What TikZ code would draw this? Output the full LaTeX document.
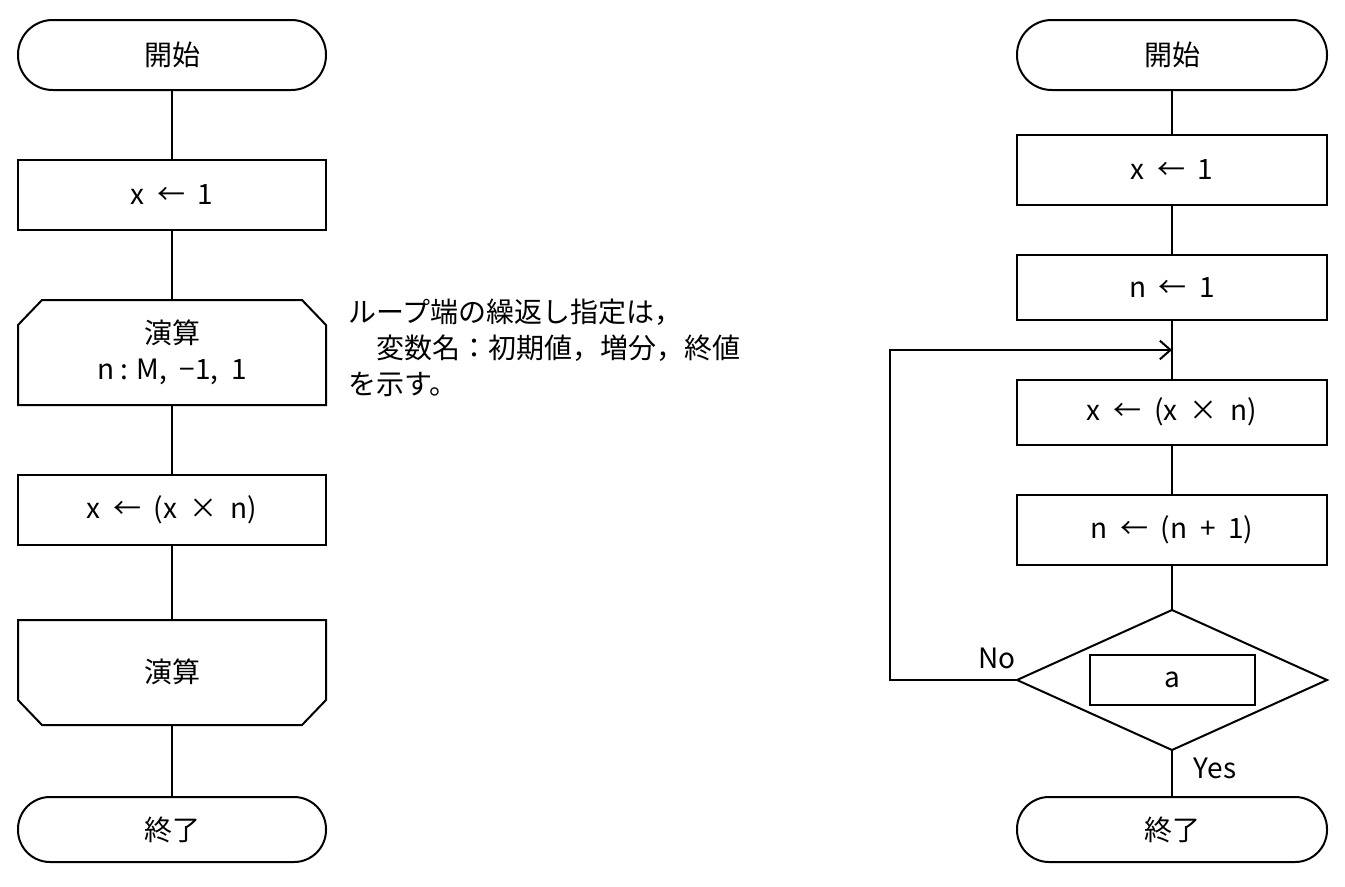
\documentclass[tikz,border=0pt]{standalone}
\usetikzlibrary{arrows.meta}
\usepackage{fontspec}
\setmainfont{Noto Sans CJK JP}
\begin{document}
\begin{tikzpicture}[x=0.75pt,y=-0.75pt,line width=1.5pt,
  txt/.style={font=\fontsize{21}{27}\selectfont,inner sep=0pt},
  arr/.style={-{Straight Barb[length=8pt,width=14pt]}}]
\useasboundingbox (0,0) rectangle (1345,886);
% left
\draw[rounded corners=26pt] (18,20) rectangle (326,90);
\node[txt] (ls) at (172,55) {開始};
\draw (18,160) rectangle (326,230); \node[txt] (lx) at (172,195) {x\ \ ←\ \ 1};
\draw (18,405) -- (18,325) -- (42,300) -- (302,300) -- (326,325) -- (326,405) -- cycle;
\node[txt,align=center] (ll) at (172,352) {演算\\n : M,\ \ −1,\ \ 1};
\draw (18,475) rectangle (326,545); \node[txt] (lm) at (172,510) {x\ \ ←\ \ (x\ \ ×\ \ n)};
\draw (18,620) -- (326,620) -- (326,700) -- (302,725) -- (42,725) -- (18,700) -- cycle;
\node[txt] (le) at (172,672) {演算};
\draw[rounded corners=24pt] (18,797) rectangle (326,862);
\node[txt] (lend) at (172,830) {終了};
\draw (172,90)--(172,160) (172,230)--(172,300) (172,405)--(172,475) (172,545)--(172,620) (172,725)--(172,797);
\node[txt,align=left,anchor=north west] (note) at (347,298) {ループ端の繰返し指定は，\\\quad 変数名：初期値，増分，終値\\を示す。};
% right
\draw[rounded corners=26pt] (1017,20) rectangle (1327,90);
\node[txt] (rs) at (1172,55) {開始};
\draw (1017,135) rectangle (1327,205); \node[txt] (rx) at (1172,170) {x\ \ ←\ \ 1};
\draw (1017,255) rectangle (1327,320); \node[txt] (rn) at (1172,288) {n\ \ ←\ \ 1};
\draw (1017,380) rectangle (1327,445); \node[txt] (rm) at (1172,412) {x\ \ ←\ \ (x\ \ ×\ \ n)};
\draw (1017,495) rectangle (1327,565); \node[txt] (ri) at (1172,530) {n\ \ ←\ \ (n\ \ +\ \ 1)};
\draw (1172,610) -- (1327,680) -- (1172,750) -- (1017,680) -- cycle;
\draw (1090,655) rectangle (1255,705); \node[txt] (ra) at (1172,680) {a};
\draw[rounded corners=24pt] (1017,797) rectangle (1327,862);
\node[txt] (rend) at (1172,830) {終了};
\draw (1172,90)--(1172,135) (1172,205)--(1172,255) (1172,320)--(1172,380) (1172,445)--(1172,495) (1172,565)--(1172,610) (1172,750)--(1172,797);
\coordinate (m) at (1172,350);
\draw[arr] (1017,680) -- (890,680) -- (890,350) -- (m);
\node[txt] (no) at (997,658) {No};
\node[txt] (yes) at (1215,768) {Yes};
\end{tikzpicture}
\end{document}
